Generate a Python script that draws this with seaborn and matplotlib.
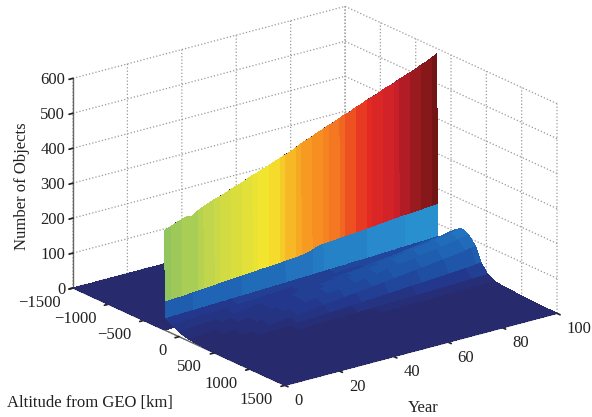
import numpy as np
import matplotlib
matplotlib.use("Agg")
import matplotlib.pyplot as plt
from matplotlib.colors import LinearSegmentedColormap, Normalize
import seaborn as sns

sns.set_theme(style="white")
plt.rcParams['font.family'] = ['Liberation Serif', 'DejaVu Serif']
plt.rcParams['axes3d.automargin'] = False

years = np.arange(0, 102, 2)
peak = [285,291,298,303,308,306,316,323,329,336,340,345,352,358,362,369,376,380,386,391,
        398,403,410,414,422,430,436,441,449,454,462,466,473,480,484,492,497,504,510,514,
        522,528,532,540,545,551,556,564,569,577,585]
band_top = [85,85,86,87,88,90,91,92,93,94,96,97,98,99,100,101,102,104,105,106,
            107,108,110,111,112,114,116,122,128,130,131,132,134,135,136,137,138,140,141,143,
            144,146,147,149,150,151,152,153,155,156,157]
band_low = [34,34,35,35,36,36,37,37,38,38,39,39,40,40,41,41,42,42,43,43,
            44,44,45,46,46,47,47,48,49,49,50,50,51,51,52,53,53,54,54,55,
            56,56,57,58,58,59,60,60,61,62,63]
ridge = [2,3,4,5,6,8,9,11,12,14,16,18,20,22,24,27,29,31,34,36,
         38,41,43,45,48,50,53,55,57,60,62,65,67,70,72,75,78,80,83,85,
         88,90,93,96,98,101,104,107,110,114,117]

# altitude profile on the GEO side of the spike
tail_alt = [-100, 0, 60, 143, 250, 350, 430, 520, 620, 800, 1100, 1500]
tail_band = [.70, .40, .25, .10, .05, 0, 0, 0, 0, 0, 0, 0]
tail_ridge = [.20, .55, .77, .95, .90, .72, .38, .17, .08, .05, .02, 0]

alt_ticks = [-1500, -1000, -500, 0, 500, 1000, 1500]
year_ticks = [0, 20, 40, 60, 80, 100]
z_ticks = [0, 100, 200, 300, 400, 500, 600]

peak, band_top, band_low, ridge = map(np.array, (peak, band_top, band_low, ridge))
zero = np.zeros_like(peak)
rows = [zero, zero, peak, band_top, band_low]
rows += [b * band_low + r * ridge for b, r in zip(tail_band, tail_ridge)]
alts = np.array([-1500, -206, -200, -196, -190] + tail_alt, float)
Z = np.array(rows, float).T          # year x altitude
A, Y = np.meshgrid(alts, years)

cmap = LinearSegmentedColormap.from_list("print_jet", [
    (0.00, "#272a6c"), (0.05, "#23378c"), (0.10, "#1f4ea2"), (0.15, "#1f63b4"),
    (0.26, "#2a93d2"), (0.36, "#52b6b8"), (0.47, "#8fc45f"), (0.55, "#c6d84a"),
    (0.65, "#f5e62d"), (0.72, "#f7a021"), (0.79, "#f37021"), (0.84, "#e62c22"),
    (0.90, "#c81f2a"), (0.93, "#9c1b20"), (0.97, "#701414"), (1.00, "#601010")]).resampled(60)
colors = cmap(Normalize(0, 600)(Z))

fig = plt.figure(figsize=(5.92, 4.17), dpi=100)
ax = fig.add_axes([0, 0, 1, 1], projection="3d")
ax.set_proj_type("ortho")
ax.view_init(elev=20.4, azim=-37.2)
surf = ax.plot_surface(A, Y, Z, facecolors=colors, rstride=1, cstride=1, shade=False,
                       linewidth=0, antialiased=False, edgecolor="none")
surf.set_zsort("max")
surf.set_clip_on(False)
ax.set_clip_on(False)
ax.set_xlim(-1500, 1500); ax.set_ylim(0, 100); ax.set_zlim(0, 600)
ax.set_xticks(alt_ticks); ax.set_yticks(year_ticks); ax.set_zticks(z_ticks)
ax.tick_params(labelsize=12, colors="#222222", pad=-1)
ax.tick_params(axis="z", pad=-5.5)
for a in (ax.xaxis, ax.yaxis, ax.zaxis):
    a.set_pane_color((1, 1, 1, 0))
    a.pane.set_edgecolor((1, 1, 1, 0))
    a.line.set_color("#666666"); a.line.set_linewidth(1.0)
    a.line.set_clip_on(False)
    a._axinfo["grid"].update(color="#999999", linestyle=":", linewidth=0.9)
    a._axinfo["tick"].update(color="#666666", inward_factor=0.18, outward_factor=0.0)
ax.zaxis.set_ticks_position("lower")
ax.grid(True)

# fit the box to the reference pixels
def px(x, y, z):
    from mpl_toolkits.mplot3d import proj3d
    X, Yy, _ = proj3d.proj_transform(x, y, z, ax.get_proj())
    return ax.transData.transform((X, Yy))
asp = (351, 342, 224)
ax.set_box_aspect(asp, zoom=1.0)
fig.canvas.draw()
w = px(1500, 100, 0)[0] - px(-1500, 0, 0)[0]
ax.set_box_aspect(asp, zoom=484 / w)
fig.canvas.draw()
p = px(-1500, 0, 0)
dx, dy = (73 - p[0]) / 592, ((417 - 288) - p[1]) / 417
ax.set_position([dx, dy, 1, 1])

# tick-label alignment as in the reference
for axis, ha in ((ax.xaxis, "right"), (ax.yaxis, "left"), (ax.zaxis, "right")):
    for lab in axis.get_ticklabels():
        lab.set_ha(ha)
        lab.set_va("center_baseline")

fig.text(22 / 592, 1 - 186 / 417, "Number of Objects", rotation=90, fontsize=12, ha="center", va="center", color="#222222")
fig.text(90 / 592, 1 - 403 / 417, "Altitude from GEO [km]", fontsize=12, ha="center", va="center", color="#222222")
fig.text(423 / 592, 1 - 408 / 417, "Year", fontsize=12, ha="center", va="center", color="#222222")
fig.savefig("out.png", dpi=100)
